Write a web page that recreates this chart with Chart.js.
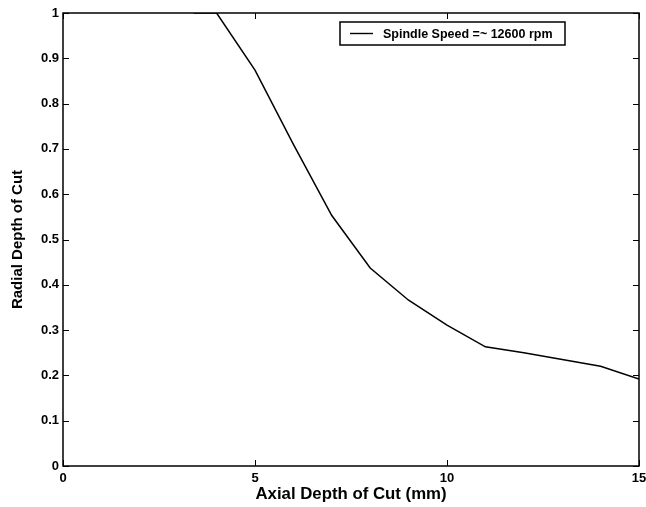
<!DOCTYPE html>
<html>
<head>
<meta charset="utf-8">
<script src="https://cdn.jsdelivr.net/npm/chart.js@4"></script>
<style>
  html, body { margin: 0; padding: 0; background: #fff; }
  #wrap { width: 646px; height: 507px; }
</style>
</head>
<body>
<div id="wrap"><canvas id="chart" width="646" height="507"></canvas></div>
<script>
// data
var axialDepth = [3.4, 4, 5, 6, 7, 8, 9, 10, 11, 12, 13, 14, 15];
var radialDepth = [1.0, 1.0, 0.874, 0.71, 0.553, 0.437, 0.366, 0.311, 0.263, 0.25, 0.235, 0.22, 0.192];
var xTicks = [0, 5, 10, 15];
var yTicks = [0, 0.1, 0.2, 0.3, 0.4, 0.5, 0.6, 0.7, 0.8, 0.9, 1];
var seriesLabel = 'Spindle Speed =~ 12600 rpm';

var FONT = '"Liberation Sans", Arial, sans-serif';

// box around the plot + inward ticks + legend inside the plot
var matlabBox = {
    id: 'matlabBox',
    afterDraw: function(chart) {
        var ctx = chart.ctx;
        var a = chart.chartArea;
        var xs = chart.scales.x, ys = chart.scales.y;
        ctx.save();
        ctx.strokeStyle = '#000';
        ctx.lineWidth = 1.5;
        ctx.strokeRect(a.left, a.top, a.right - a.left, a.bottom - a.top);
        ctx.lineWidth = 1;
        ctx.beginPath();
        xTicks.forEach(function(v) {
            var px = Math.round(xs.getPixelForValue(v)) + 0.5;
            ctx.moveTo(px, a.bottom); ctx.lineTo(px, a.bottom - 6);
            ctx.moveTo(px, a.top); ctx.lineTo(px, a.top + 6);
        });
        yTicks.forEach(function(v) {
            var py = Math.round(ys.getPixelForValue(v)) + 0.5;
            ctx.moveTo(a.left, py); ctx.lineTo(a.left + 6, py);
            ctx.moveTo(a.right, py); ctx.lineTo(a.right - 6, py);
        });
        ctx.stroke();

        // legend
        var bx = 340, by = 22, bw = 225, bh = 23;
        ctx.fillStyle = '#fff';
        ctx.fillRect(bx, by, bw, bh);
        ctx.lineWidth = 1.5;
        ctx.strokeRect(bx, by, bw, bh);
        ctx.lineWidth = 1.4;
        ctx.beginPath();
        ctx.moveTo(350, by + bh / 2);
        ctx.lineTo(373, by + bh / 2);
        ctx.stroke();
        ctx.fillStyle = '#000';
        ctx.font = 'bold 12.5px ' + FONT;
        ctx.textBaseline = 'middle';
        ctx.fillText(seriesLabel, 383, by + bh / 2 + 1);
        ctx.restore();
    }
};

new Chart(document.getElementById('chart').getContext('2d'), {
    type: 'line',
    data: {
        datasets: [{
            label: seriesLabel,
            data: axialDepth.map(function(x, i) { return { x: x, y: radialDepth[i] }; }),
            borderColor: '#000',
            borderWidth: 1.5,
            pointRadius: 0,
            tension: 0,
            fill: false
        }]
    },
    options: {
        responsive: false,
        animation: false,
        layout: { padding: { left: 0, top: 13, right: 7, bottom: 0 } },
        plugins: {
            legend: { display: false },
            tooltip: { enabled: false }
        },
        scales: {
            x: {
                type: 'linear',
                min: 0, max: 15,
                afterBuildTicks: function(s) { s.ticks = xTicks.map(function(v) { return { value: v }; }); },
                afterFit: function(s) { s.height = 41; s.paddingRight = 0; s.paddingLeft = 0; },
                grid: { display: false, drawTicks: false },
                border: { display: false },
                ticks: { color: '#000', padding: 5, font: { family: FONT, size: 13, weight: 'bold' }, maxRotation: 0 },
                title: { display: true, text: 'Axial Depth of Cut (mm)', color: '#000', padding: { top: 3, bottom: 3 }, font: { family: FONT, size: 16.8, weight: 'bold' } }
            },
            y: {
                type: 'linear',
                min: 0, max: 1,
                afterBuildTicks: function(s) { s.ticks = yTicks.map(function(v) { return { value: v }; }); },
                afterFit: function(s) { s.width = 63; s.paddingTop = 0; s.paddingBottom = 0; },
                grid: { display: false, drawTicks: false },
                border: { display: false },
                ticks: {
                    color: '#000', padding: 4, font: { family: FONT, size: 13, weight: 'bold' },
                    callback: function(v) { return String(+v.toFixed(1)); }
                },
                title: { display: true, text: 'Radial Depth of Cut', color: '#000', padding: { top: 9, bottom: 9 }, font: { family: FONT, size: 15, weight: 'bold' } }
            }
        }
    },
    plugins: [matlabBox]
});
</script>
</body>
</html>
